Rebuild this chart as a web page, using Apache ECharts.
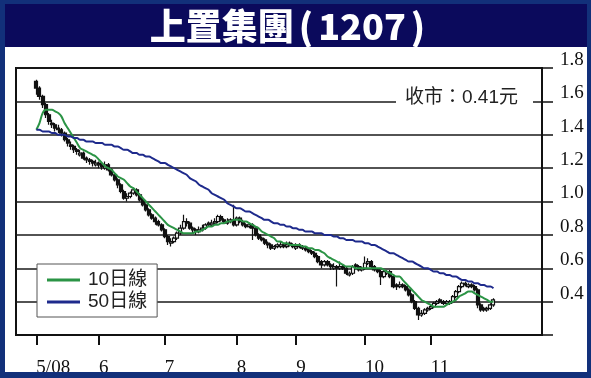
<!DOCTYPE html>
<html><head><meta charset="utf-8">
<script src="https://cdn.jsdelivr.net/npm/echarts@6/dist/echarts.min.js"></script>
<style>html,body{margin:0;padding:0;background:#fff}#c{width:591px;height:378px}</style>
</head><body><div id="c"></div>
<script>
// ---- data ----
const monthStartIdx = [0, 20, 41, 64, 83, 105, 126];
const monthLabels = ['5/08', '6', '7', '8', '9', '10', '11'];
const yTicks = [0.2, 0.4, 0.6, 0.8, 1.0, 1.2, 1.4, 1.6, 1.8];
const lastClose = '0.41';

const opens = [1.72,1.68,1.63,1.58,1.52,1.47,1.46,1.44,1.43,1.41,
1.37,1.34,1.33,1.31,1.28,1.29,1.26,1.25,1.24,1.22,
1.23,1.22,1.20,1.22,1.19,1.16,1.13,1.10,1.06,1.02,
1.03,1.05,1.07,1.04,1.01,0.98,0.95,0.92,0.90,0.88,
0.86,0.83,0.79,0.75,0.76,0.78,0.81,0.84,0.88,0.87,
0.84,0.83,0.82,0.83,0.84,0.87,0.86,0.87,0.88,0.91,
0.89,0.87,0.88,0.89,0.86,0.90,0.88,0.86,0.85,0.86,
0.84,0.80,0.78,0.77,0.75,0.74,0.72,0.73,0.73,0.74,
0.73,0.75,0.74,0.72,0.74,0.73,0.72,0.71,0.70,0.69,
0.67,0.64,0.62,0.64,0.62,0.60,0.61,0.60,0.61,0.60,
0.56,0.57,0.62,0.61,0.59,0.60,0.63,0.64,0.61,0.59,
0.58,0.55,0.57,0.58,0.55,0.50,0.49,0.50,0.49,0.47,
0.44,0.40,0.36,0.32,0.33,0.35,0.36,0.37,0.39,0.41,
0.40,0.39,0.39,0.40,0.43,0.46,0.49,0.51,0.49,0.50,
0.49,0.47,0.38,0.36,0.35,0.36,0.38];
const closes = [1.68,1.63,1.58,1.52,1.48,1.46,1.44,1.43,1.41,1.37,
1.35,1.33,1.31,1.30,1.29,1.26,1.25,1.24,1.23,1.23,
1.22,1.21,1.22,1.19,1.16,1.13,1.10,1.06,1.02,1.03,
1.05,1.07,1.04,1.01,0.98,0.95,0.92,0.90,0.88,0.86,
0.83,0.79,0.76,0.76,0.78,0.81,0.84,0.88,0.87,0.84,
0.83,0.82,0.83,0.84,0.86,0.86,0.87,0.88,0.91,0.89,
0.88,0.88,0.89,0.86,0.90,0.88,0.86,0.85,0.86,0.84,
0.80,0.78,0.77,0.75,0.74,0.72,0.73,0.74,0.74,0.73,
0.74,0.74,0.73,0.73,0.73,0.72,0.71,0.70,0.69,0.67,
0.64,0.62,0.64,0.62,0.61,0.61,0.60,0.61,0.60,0.57,
0.57,0.61,0.61,0.59,0.60,0.63,0.64,0.61,0.59,0.58,
0.55,0.58,0.58,0.55,0.49,0.49,0.50,0.49,0.47,0.44,
0.40,0.36,0.32,0.33,0.35,0.36,0.37,0.39,0.40,0.40,
0.39,0.40,0.40,0.43,0.46,0.49,0.51,0.50,0.50,0.49,
0.47,0.38,0.35,0.35,0.36,0.38,0.41];
const lows = [1.64,1.61,1.56,1.50,1.46,1.44,1.42,1.41,1.39,1.36,
1.33,1.31,1.29,1.28,1.27,1.25,1.23,1.22,1.21,1.21,
1.20,1.19,1.19,1.18,1.15,1.12,1.08,1.05,1.01,1.00,
1.02,1.04,1.03,1.00,0.97,0.94,0.91,0.89,0.86,0.85,
0.82,0.78,0.74,0.73,0.75,0.77,0.80,0.83,0.85,0.83,
0.81,0.80,0.81,0.82,0.83,0.85,0.85,0.86,0.87,0.88,
0.87,0.86,0.87,0.85,0.85,0.87,0.85,0.84,0.84,0.77,
0.79,0.77,0.76,0.74,0.72,0.71,0.71,0.72,0.72,0.72,
0.72,0.73,0.72,0.71,0.72,0.71,0.70,0.69,0.68,0.66,
0.63,0.60,0.61,0.61,0.59,0.59,0.49,0.59,0.59,0.56,
0.55,0.56,0.60,0.58,0.58,0.59,0.62,0.60,0.58,0.57,
0.50,0.54,0.56,0.54,0.48,0.47,0.48,0.48,0.46,0.43,
0.39,0.35,0.29,0.31,0.32,0.34,0.35,0.36,0.38,0.39,
0.38,0.38,0.38,0.39,0.42,0.45,0.48,0.49,0.48,0.48,
0.46,0.36,0.34,0.34,0.34,0.35,0.37];
const highs = [1.73,1.69,1.64,1.59,1.53,1.49,1.47,1.46,1.44,1.42,
1.38,1.36,1.34,1.32,1.31,1.30,1.27,1.26,1.25,1.25,
1.24,1.23,1.24,1.23,1.20,1.17,1.14,1.11,1.07,1.05,
1.06,1.08,1.08,1.05,1.02,0.99,0.96,0.93,0.91,0.89,
0.87,0.84,0.80,0.78,0.79,0.82,0.86,0.92,0.90,0.88,
0.85,0.84,0.85,0.86,0.87,0.88,0.89,0.90,0.92,0.92,
0.90,0.90,0.90,0.98,0.91,0.91,0.89,0.87,0.87,0.87,
0.85,0.81,0.79,0.78,0.76,0.75,0.74,0.75,0.76,0.75,
0.76,0.76,0.75,0.75,0.75,0.74,0.73,0.72,0.71,0.70,
0.68,0.65,0.65,0.65,0.63,0.63,0.62,0.64,0.62,0.61,
0.58,0.62,0.63,0.62,0.61,0.67,0.66,0.65,0.62,0.60,
0.59,0.59,0.59,0.59,0.56,0.51,0.52,0.51,0.50,0.48,
0.45,0.41,0.37,0.35,0.36,0.37,0.38,0.40,0.41,0.42,
0.41,0.41,0.41,0.44,0.47,0.50,0.52,0.52,0.51,0.51,
0.50,0.48,0.39,0.37,0.37,0.39,0.42];
const ma10 = [1.43,1.47,1.53,1.55,1.55,1.55,1.54,1.53,1.51,1.47,
1.44,1.41,1.38,1.35,1.32,1.31,1.30,1.29,1.28,1.27,
1.25,1.23,1.21,1.20,1.19,1.17,1.15,1.14,1.13,1.11,
1.09,1.08,1.06,1.04,1.02,1.00,0.98,0.96,0.94,0.92,
0.90,0.88,0.86,0.85,0.84,0.83,0.82,0.81,0.81,0.81,
0.81,0.82,0.82,0.83,0.84,0.85,0.85,0.86,0.86,0.87,
0.87,0.88,0.88,0.89,0.89,0.89,0.88,0.88,0.87,0.86,
0.85,0.84,0.82,0.81,0.80,0.79,0.78,0.76,0.76,0.75,
0.75,0.74,0.74,0.74,0.74,0.73,0.73,0.72,0.72,0.71,
0.71,0.70,0.69,0.67,0.66,0.65,0.64,0.63,0.62,0.61,
0.61,0.61,0.60,0.60,0.60,0.60,0.60,0.60,0.60,0.60,
0.60,0.59,0.58,0.57,0.56,0.55,0.55,0.53,0.51,0.49,
0.47,0.45,0.43,0.41,0.40,0.39,0.38,0.37,0.37,0.37,
0.37,0.38,0.39,0.40,0.41,0.43,0.44,0.45,0.46,0.46,
0.45,0.44,0.43,0.42,0.41,0.40,0.40];
const ma50 = [1.43,1.43,1.42,1.42,1.42,1.41,1.41,1.40,1.40,1.40,
1.39,1.39,1.38,1.38,1.37,1.37,1.36,1.36,1.36,1.35,
1.35,1.35,1.34,1.34,1.34,1.33,1.33,1.32,1.31,1.31,
1.30,1.29,1.29,1.28,1.28,1.27,1.27,1.26,1.25,1.24,
1.23,1.23,1.22,1.21,1.20,1.19,1.18,1.17,1.16,1.14,
1.13,1.12,1.10,1.09,1.08,1.07,1.05,1.04,1.03,1.02,
1.01,0.99,0.98,0.97,0.96,0.96,0.95,0.94,0.94,0.93,
0.92,0.91,0.90,0.89,0.89,0.88,0.87,0.87,0.86,0.86,
0.85,0.85,0.84,0.84,0.83,0.83,0.82,0.82,0.82,0.81,
0.81,0.81,0.80,0.80,0.80,0.79,0.79,0.78,0.78,0.77,
0.77,0.77,0.76,0.76,0.76,0.75,0.75,0.74,0.74,0.73,
0.72,0.71,0.70,0.69,0.69,0.68,0.67,0.66,0.65,0.64,
0.64,0.63,0.62,0.61,0.60,0.60,0.59,0.58,0.58,0.57,
0.57,0.56,0.56,0.55,0.55,0.54,0.53,0.53,0.52,0.52,
0.51,0.51,0.50,0.50,0.49,0.49,0.48];

// ---- layout helpers ----
const PAD_START = 6, PAD_END = 15;
const N = closes.length;
const cats = Array.from({length: PAD_START + N + PAD_END}, (_, i) => String(i));
const labelAt = {};
monthStartIdx.forEach((d, k) => { labelAt[d + PAD_START] = monthLabels[k]; });
const showAt = (idx) => labelAt[idx] !== undefined;

const kData = closes.map((c, i) => [i + PAD_START, opens[i], c, lows[i], highs[i]]);
const ma10Data = ma10.map((v, i) => [i + PAD_START, v]);
const ma50Data = ma50.map((v, i) => [i + PAD_START, v]);

const BORDER = '#12307a', BAND = '#0b0a5c', INK = '#111';
const chart = echarts.init(document.getElementById('c'), null, {renderer: 'canvas'});
chart.setOption({
  animation: false,
  backgroundColor: '#fff',
  grid: {left: 16, right: 49, top: 68, bottom: 42, show: true, borderColor: INK, borderWidth: 2, containLabel: false},
  legend: {
    data: ['10日線', '50日線'], orient: 'vertical', left: 37, top: 264,
    padding: [5, 10, 4, 10], itemGap: 0, itemWidth: 33, itemHeight: 3, icon: 'rect',
    backgroundColor: '#fff', borderColor: '#555', borderWidth: 1,
    textStyle: {fontFamily: 'Liberation Sans, Noto Sans CJK TC', fontSize: 19, color: '#222', lineHeight: 22, padding: [0, 0, 0, 3]}
  },
  xAxis: {
    type: 'category', data: cats, boundaryGap: true,
    axisLine: {show: true, lineStyle: {color: INK, width: 2}},
    axisTick: {show: true, alignWithLabel: true, interval: (i) => showAt(i), length: 10, lineStyle: {color: INK, width: 2}},
    axisLabel: {interval: (i) => showAt(i), formatter: (v, i) => labelAt[i] || '', align: 'left', verticalAlign: 'top', margin: 24,
      fontFamily: 'Liberation Serif', fontSize: 19, color: INK},
    splitLine: {show: false}
  },
  yAxis: {
    type: 'value', position: 'right', min: yTicks[0], max: yTicks[yTicks.length - 1], interval: 0.2,
    axisLine: {show: true, lineStyle: {color: INK, width: 2}},
    axisTick: {show: true, length: 11, lineStyle: {color: INK, width: 1.5}},
    axisLabel: {margin: 18, fontFamily: 'Liberation Serif', fontSize: 19, color: INK, verticalAlign: 'bottom', lineHeight: 16,
      formatter: (v) => v < 0.3 ? '' : v.toFixed(1)},
    splitLine: {show: true, lineStyle: {color: '#1a1a1a', width: 1.5}}
  },
  series: [
    {type: 'candlestick', name: 'K', data: kData, encode: {x: 0, y: [1, 2, 3, 4]}, barWidth: 3.5,
      itemStyle: {color: '#fff', color0: INK, borderColor: INK, borderColor0: INK, borderWidth: 1.2}, z: 3},
    {type: 'line', name: '10日線', data: ma10Data, showSymbol: false, smooth: 0.3, color: '#2b9445',
      lineStyle: {width: 2, color: '#2b9445'}, z: 4},
    {type: 'line', name: '50日線', data: ma50Data, showSymbol: false, smooth: 0.3, color: '#1e2a8c',
      lineStyle: {width: 2, color: '#1e2a8c'}, z: 4}
  ],
  graphic: [
    {type: 'rect', z: 100, shape: {x: 0, y: 0, width: 591, height: 47}, style: {fill: BORDER}},
    {type: 'rect', z: 100, shape: {x: 4, y: 4, width: 583, height: 43}, style: {fill: BAND}},
    {type: 'rect', z: 100, shape: {x: 0, y: 0, width: 5, height: 378}, style: {fill: BORDER}},
    {type: 'rect', z: 100, shape: {x: 587, y: 0, width: 4, height: 378}, style: {fill: BORDER}},
    {type: 'rect', z: 100, shape: {x: 0, y: 372, width: 591, height: 6}, style: {fill: BORDER}},
    {type: 'text', z: 101, x: 290, y: 26, style: {
      text: '{a|上置集團}{p|(}{a|1207}{p|)}', align: 'center', verticalAlign: 'middle',
      rich: {
        a: {fontFamily: 'Noto Sans CJK TC', fontWeight: 900, fontSize: 36, fill: '#fff'},
        p: {fontFamily: 'Noto Sans CJK TC', fontWeight: 900, fontSize: 36, fill: '#fff', padding: [0, 5, 0, 5]}
      }}},
    {type: 'rect', z: 50, shape: {x: 396, y: 93, width: 137, height: 16}, style: {fill: '#fff'}},
    {type: 'text', z: 51, x: 405, y: 98, style: {text: '收市：' + lastClose + '元', align: 'left', verticalAlign: 'middle',
      fontFamily: 'Liberation Sans, Noto Sans CJK TC', fontSize: 19, fill: '#222'}}
  ]
});
</script></body></html>
